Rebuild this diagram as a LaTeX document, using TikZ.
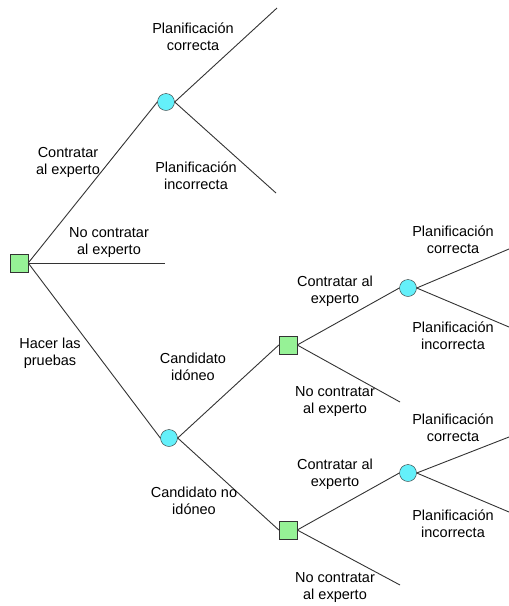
\documentclass[tikz,border=0pt]{standalone}
\usepackage{fontspec}
\setmainfont{Liberation Sans}
\definecolor{decgreen}{RGB}{150,242,150}
\definecolor{chcyan}{RGB}{100,240,250}
\begin{document}
\begin{tikzpicture}[x=1pt, y=-1pt, font=\fontsize{14.5}{17}\selectfont]

    % Styles for decision squares, chance circles, branches and labels
    \tikzset{
      decision/.style={draw=black!80, fill=decgreen, minimum size=18pt, inner sep=0pt},
      chance/.style={circle, draw=black!80, fill=chcyan, minimum size=17pt, inner sep=0pt},
      branch/.style={draw=black!80, line width=0.9pt},
      lbl/.style={inner sep=1pt, align=center}
    }

    \useasboundingbox (0,0) rectangle (509,606);

    % Right edge of the open branches
    \def\xright{509}

    % --- Decision and chance nodes ---
    \node[decision] (root) at (19,263) {};
    \node[chance] (chexp) at (166,102) {};
    \node[chance] (chtest) at (169,438) {};
    \node[decision] (dsuit) at (288,345) {};
    \node[decision] (dunsuit) at (288,530) {};
    \node[chance] (chsuit) at (408,288) {};
    \node[chance] (chunsuit) at (408,473) {};

    % --- Free ends of the branches ---
    \coordinate (topok) at (277,8);
    \coordinate (topbad) at (276,193);
    \coordinate (rootno) at (165,263);
    \coordinate (suitok) at (\xright,249);
    \coordinate (suitbad) at (\xright,327);
    \coordinate (suitno) at (400,402);
    \coordinate (unsuitok) at (\xright,437);
    \coordinate (unsuitbad) at (\xright,512);
    \coordinate (unsuitno) at (400,585);

    % --- Branches ---
    \draw[branch] (root.east) -- (chexp.west);
    \draw[branch] (root.east) -- (rootno);
    \draw[branch] (root.east) -- (chtest.west);
    \draw[branch] (chexp.east) -- (topok);
    \draw[branch] (chexp.east) -- (topbad);
    \draw[branch] (chtest.east) -- (dsuit.west);
    \draw[branch] (chtest.east) -- (dunsuit.west);
    \draw[branch] (dsuit.east) -- (chsuit.west);
    \draw[branch] (dsuit.east) -- (suitno);
    \draw[branch] (dunsuit.east) -- (chunsuit.west);
    \draw[branch] (dunsuit.east) -- (unsuitno);
    \draw[branch] (chsuit.east) -- (suitok);
    \draw[branch] (chsuit.east) -- (suitbad);
    \draw[branch] (chunsuit.east) -- (unsuitok);
    \draw[branch] (chunsuit.east) -- (unsuitbad);

    % --- Labels ---
    \node[lbl] (ltopok) at (193,37) {Planificación\\correcta};
    \node[lbl] (ltopbad) at (196,176) {Planificación\\incorrecta};
    \node[lbl] (lhire) at (68,162) {Contratar\\al experto};
    \node[lbl] (lnohire) at (109,243) {No contratar\\al experto};
    \node[lbl] (ltest) at (50,353) {Hacer las\\pruebas};
    \node[lbl] (lsuit) at (193,367) {Candidato\\idóneo};
    \node[lbl] (lunsuit) at (194,501) {Candidato no\\idóneo};
    \node[lbl] (lsuithire) at (335,291) {Contratar al\\experto};
    \node[lbl] (lsuitno) at (335,402) {No contratar\\al experto};
    \node[lbl] (lsuitok) at (453,240) {Planificación\\correcta};
    \node[lbl] (lsuitbad) at (453,336) {Planificación\\incorrecta};
    \node[lbl] (lunsuithire) at (335,474) {Contratar al\\experto};
    \node[lbl] (lunsuitno) at (335,588) {No contratar\\al experto};
    \node[lbl] (lunsuitok) at (453,428) {Planificación\\correcta};
    \node[lbl] (lunsuitbad) at (453,524) {Planificación\\incorrecta};
\end{tikzpicture}
\end{document}
